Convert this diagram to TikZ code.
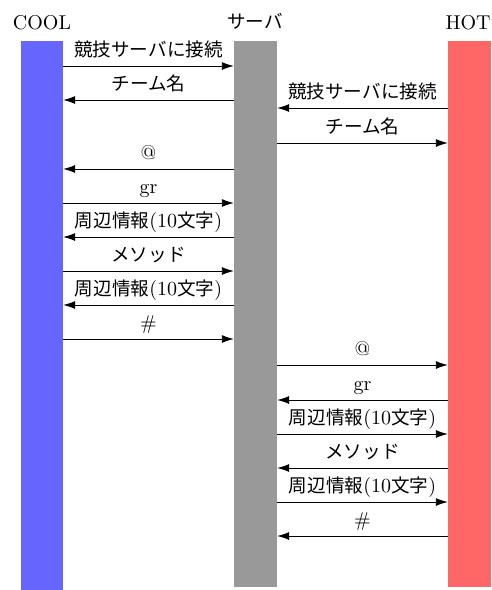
\documentclass[tikz,border=0pt]{standalone}
\usepackage{fontspec}
\setmainfont{lmroman10-regular.otf}
\newfontfamily\jp{Noto Sans CJK JP}[Scale=0.93]
\usetikzlibrary{arrows.meta}
\definecolor{coolc}{HTML}{6666FF}
\definecolor{srvc}{HTML}{999999}
\definecolor{hotc}{HTML}{FF6666}
\tikzset{
  bar/.style={draw=none, inner sep=0pt, minimum width=42pt},
  msg/.style={-{Latex[length=12pt,width=8pt]}, line width=0.9pt},
  lbl/.style={anchor=base, inner sep=0pt, midway, yshift=10pt, font=\fontsize{20}{24}\selectfont},
  head/.style={anchor=base, inner sep=0pt, font=\fontsize{20}{24}\selectfont},
}
\begin{document}
\begin{tikzpicture}[x=1pt,y=-1pt]
\useasboundingbox (0,0) rectangle (491,590);
\node[bar, fill=coolc, minimum height=549pt] (cool) at (42,315.5) {};
\node[bar, fill=srvc, minimum height=546pt, minimum width=43pt] (srv) at (255.5,314) {};
\node[bar, fill=hotc, minimum height=546pt, minimum width=43pt] (hot) at (469.5,314) {};
\node[head] (hcool) at (42,29) {COOL};
\node[head] (hsrv) at (255,28) {\jp サーバ};
\node[head] (hhot) at (468,29) {HOT};
% COOL <-> server
\draw[msg] (cool.east |- 0,66) -- (srv.west |- 0,66) node[lbl] (m1) {\jp 競技サーバに接続};
\draw[msg] (srv.west |- 0,100) -- (cool.east |- 0,100) node[lbl] (m2) {\jp チーム名};
% HOT <-> server
\draw[msg] (hot.west |- 0,108) -- (srv.east |- 0,108) node[lbl] (m3) {\jp 競技サーバに接続};
\draw[msg] (srv.east |- 0,143) -- (hot.west |- 0,143) node[lbl] (m4) {\jp チーム名};
% COOL turn
\draw[msg] (srv.west |- 0,169) -- (cool.east |- 0,169) node[lbl] (m5) {@};
\draw[msg] (cool.east |- 0,203) -- (srv.west |- 0,203) node[lbl] (m6) {gr};
\draw[msg] (srv.west |- 0,237) -- (cool.east |- 0,237) node[lbl] (m7) {{\jp 周辺情報}(10{\jp 文字})};
\draw[msg] (cool.east |- 0,271) -- (srv.west |- 0,271) node[lbl] (m8) {\jp メソッド};
\draw[msg] (srv.west |- 0,305) -- (cool.east |- 0,305) node[lbl] (m9) {{\jp 周辺情報}(10{\jp 文字})};
\draw[msg] (cool.east |- 0,339) -- (srv.west |- 0,339) node[lbl] (m10) {\#};
% HOT turn
\draw[msg] (srv.east |- 0,365) -- (hot.west |- 0,365) node[lbl] (m11) {@};
\draw[msg] (hot.west |- 0,400) -- (srv.east |- 0,400) node[lbl] (m12) {gr};
\draw[msg] (srv.east |- 0,434) -- (hot.west |- 0,434) node[lbl] (m13) {{\jp 周辺情報}(10{\jp 文字})};
\draw[msg] (hot.west |- 0,468) -- (srv.east |- 0,468) node[lbl] (m14) {\jp メソッド};
\draw[msg] (srv.east |- 0,502) -- (hot.west |- 0,502) node[lbl] (m15) {{\jp 周辺情報}(10{\jp 文字})};
\draw[msg] (hot.west |- 0,536) -- (srv.east |- 0,536) node[lbl] (m16) {\#};
\end{tikzpicture}
\end{document}
